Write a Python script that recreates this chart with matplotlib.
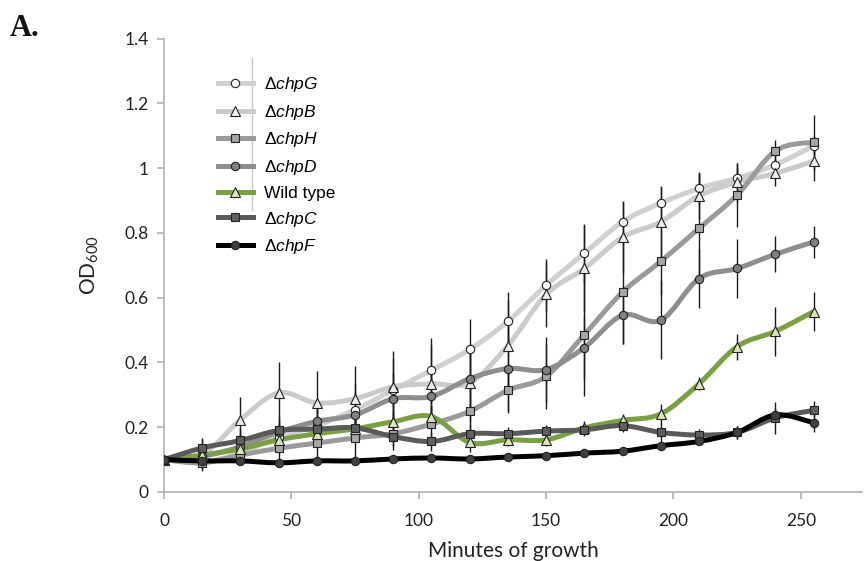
import numpy as np
import matplotlib
matplotlib.use("Agg")
import matplotlib.pyplot as plt
from matplotlib.path import Path
from matplotlib.patches import PathPatch
from matplotlib.lines import Line2D

plt.rcParams['font.family'] = ['Lato', 'DejaVu Sans']
plt.rcParams['mathtext.fontset'] = 'custom'
plt.rcParams['mathtext.rm'] = 'Lato'
plt.rcParams['mathtext.it'] = 'Liberation Sans:italic'

# minutes of growth
time = [0, 15, 30, 45, 60, 75, 90, 105, 120, 135, 150, 165, 180, 195, 210, 225, 240, 255]

# OD600 per strain
od_G = [0.10, 0.093, 0.12, 0.17, 0.205, 0.254, 0.315, 0.376, 0.44, 0.527, 0.638, 0.737, 0.834, 0.892, 0.937, 0.969, 1.01, 1.069]
od_B = [0.10, 0.114, 0.223, 0.306, 0.275, 0.288, 0.325, 0.334, 0.337, 0.452, 0.61, 0.69, 0.786, 0.834, 0.914, 0.956, 0.984, 1.021]
od_H = [0.10, 0.09, 0.114, 0.135, 0.151, 0.167, 0.18, 0.21, 0.249, 0.314, 0.357, 0.486, 0.617, 0.712, 0.814, 0.917, 1.053, 1.080]
od_D = [0.10, 0.11, 0.14, 0.185, 0.218, 0.238, 0.288, 0.295, 0.35, 0.381, 0.378, 0.446, 0.546, 0.53, 0.659, 0.69, 0.734, 0.772]
od_WT = [0.10, 0.114, 0.133, 0.161, 0.18, 0.195, 0.217, 0.233, 0.153, 0.161, 0.161, 0.198, 0.221, 0.241, 0.334, 0.449, 0.496, 0.557]
od_C = [0.10, 0.136, 0.159, 0.19, 0.194, 0.198, 0.171, 0.156, 0.18, 0.18, 0.188, 0.192, 0.205, 0.184, 0.176, 0.184, 0.229, 0.252]
od_F = [0.10, 0.096, 0.096, 0.09, 0.096, 0.096, 0.102, 0.105, 0.102, 0.108, 0.112, 0.12, 0.126, 0.143, 0.156, 0.184, 0.238, 0.214]

# error bars
err_G = [0, 0.02, 0.03, 0.04, 0.06, 0.08, 0.1, 0.1, 0.095, 0.09, 0.08, 0.09, 0.065, 0.05, 0.05, 0.03, 0.03, 0.03]
err_B = [0, 0.05, 0.07, 0.095, 0.1, 0.1, 0.11, 0.12, 0.12, 0.14, 0.1, 0.135, 0.11, 0.11, 0.07, 0.06, 0.04, 0.06]
err_H = [0, 0.02, 0.03, 0.04, 0.05, 0.06, 0.05, 0.06, 0.1, 0.07, 0.1, 0.19, 0.16, 0.1, 0.17, 0.1, 0.035, 0.085]
err_D = [0, 0.02, 0.04, 0.05, 0.06, 0.07, 0.08, 0.09, 0.1, 0.13, 0.1, 0.1, 0.09, 0.12, 0.09, 0.09, 0.056, 0.05]
err_WT = [0, 0.03, 0.04, 0.03, 0.03, 0.03, 0.03, 0.03, 0.03, 0.02, 0.02, 0.02, 0.02, 0.03, 0.02, 0.04, 0.075, 0.06]
err_C = [0, 0.03, 0.04, 0.03, 0.03, 0.03, 0.03, 0.03, 0.03, 0.02, 0.02, 0.02, 0.02, 0.03, 0.02, 0.02, 0.05, 0.03]
err_F = [0, 0.01, 0.01, 0.01, 0.01, 0.01, 0.01, 0.01, 0.01, 0.01, 0.01, 0.01, 0.01, 0.01, 0.01, 0.02, 0.02, 0.03]

labels = [u"\u0394$\\mathit{chpG}$", u"\u0394$\\mathit{chpB}$", u"\u0394$\\mathit{chpH}$",
          u"\u0394$\\mathit{chpD}$", "Wild type", u"\u0394$\\mathit{chpC}$", u"\u0394$\\mathit{chpF}$"]
series = [od_G, od_B, od_H, od_D, od_WT, od_C, od_F]
errors = [err_G, err_B, err_H, err_D, err_WT, err_C, err_F]
line_colors = ['#d0d0d0', '#cbcbcb', '#9a9a9a', '#8e8e8e', '#7aa043', '#5a5a5a', '#000000']
marker_faces = ['#ffffff', '#ececec', '#a6a6a6', '#7f7f7f', '#d8e4bc', '#5f5f5f', '#404040']
markers = ['o', '^', 's', 'o', '^', 's', 'o']
msizes = [6, 7.5, 6, 6, 7.5, 6, 6]


def smooth_path(x, y):
    # Excel-style smoothed line: Catmull-Rom through points as cubic Beziers
    pts = np.column_stack([x, y]).astype(float)
    ext = np.vstack([pts[0], pts, pts[-1]])
    verts = [pts[0]]
    codes = [Path.MOVETO]
    for i in range(1, len(ext) - 2):
        p0, p1, p2, p3 = ext[i - 1], ext[i], ext[i + 1], ext[i + 2]
        verts += [p1 + (p2 - p0) / 6.0, p2 - (p3 - p1) / 6.0, p2]
        codes += [Path.CURVE4] * 3
    return Path(verts, codes)


fig = plt.figure(figsize=(8.66, 5.61), dpi=100)
ax = fig.add_axes([164 / 866, 1 - 492 / 561, 698 / 866, (492 - 38.5) / 561])

handles = []
for i, (y, e) in enumerate(zip(series, errors)):
    patch = PathPatch(smooth_path(time, y), facecolor='none', edgecolor=line_colors[i],
                      lw=3.6, capstyle='round', zorder=2 + i)
    ax.add_patch(patch)
    ax.errorbar(time, y, yerr=e, fmt='none', ecolor='#1a1a1a', elinewidth=1.0,
                capsize=0, zorder=12)
    ax.plot(time, y, linestyle='none', marker=markers[i], ms=msizes[i],
            mfc=marker_faces[i], mec='#222222', mew=0.8, zorder=20 + i)
    handles.append(Line2D([], [], color=line_colors[i], lw=3.6, marker=markers[i],
                          ms=msizes[i], mfc=marker_faces[i], mec='#222222', mew=0.8))

ax.set_xlim(0, 274)
ax.set_ylim(0, 1.4)
ax.set_xticks([0, 50, 100, 150, 200, 250])
ax.set_yticks([0, 0.2, 0.4, 0.6, 0.8, 1.0, 1.2, 1.4])
ax.set_yticklabels(['0', '0.2', '0.4', '0.6', '0.8', '1', '1.2', '1.4'])
for s in ['top', 'right']:
    ax.spines[s].set_visible(False)
for s in ['left', 'bottom']:
    ax.spines[s].set_color('#b0b0b0')
    ax.spines[s].set_linewidth(1.2)
ax.tick_params(axis='both', colors='#b0b0b0', length=5, width=1.2, labelsize=12.5,
               labelcolor='#222222')
ax.tick_params(axis='x', pad=10)
ax.tick_params(axis='y', pad=6)

ax.set_xlabel("Minutes of growth", fontsize=15, color='#222222', labelpad=9)
ax.set_ylabel("OD$_{600}$", fontsize=15, color='#222222', labelpad=17)

leg = fig.legend(handles, labels, loc='upper left', bbox_to_anchor=(218 / 866, 1 - 75 / 561),
                 frameon=False, borderpad=0, borderaxespad=0, handlelength=2.0,
                 handletextpad=0.65, labelspacing=0.5,
                 prop={'family': 'Liberation Sans', 'size': 12.5})
fig.add_artist(Line2D([252 / 866, 252 / 866], [1 - 58 / 561, 1 - 210 / 561],
                      transform=fig.transFigure, color='#c8c8c8', lw=1))

fig.text(10 / 866, 1 - 36 / 561, "A.", fontsize=22, fontweight='bold',
         family='Liberation Serif', color='#111111')

fig.savefig("out.png", dpi=100)
